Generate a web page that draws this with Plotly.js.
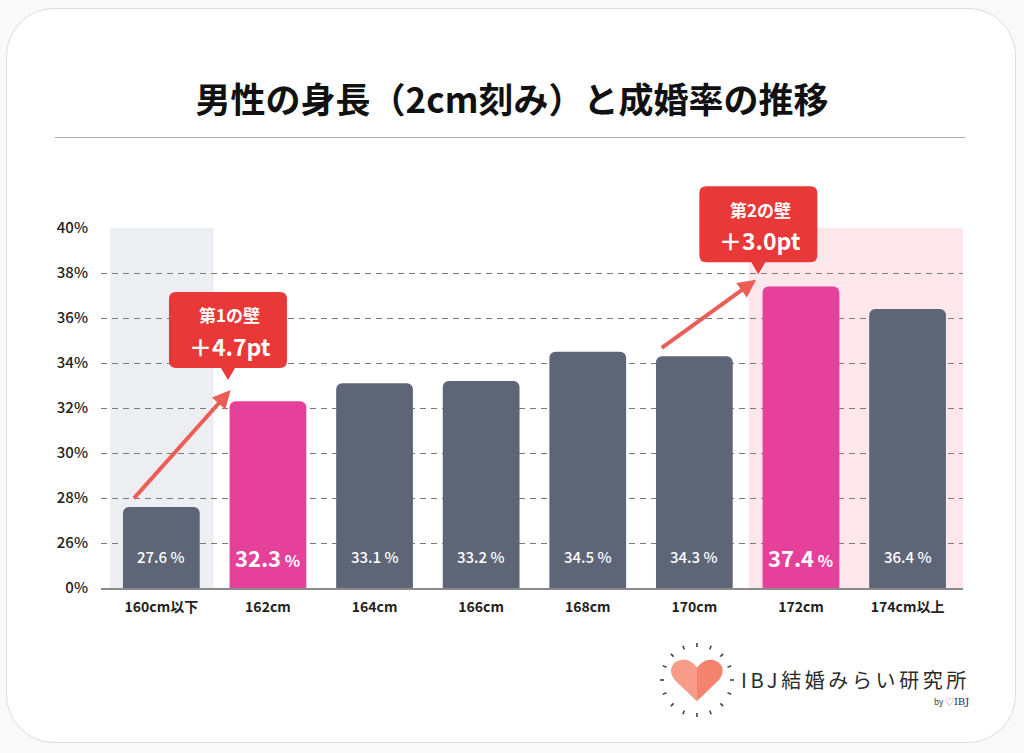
<!DOCTYPE html>
<html>
<head>
<meta charset="utf-8">
<script src="https://cdn.plot.ly/plotly-3.0.1.min.js"></script>
<style>
  body { margin: 0; background: #f9f9f9; font-family: "Noto Sans CJK JP", "Noto Sans", sans-serif; }
  #wrap { position: relative; width: 1024px; height: 753px; overflow: hidden; }
  #card { position: absolute; left: 6px; top: 8px; width: 1010px; height: 735px; background: #fff;
          border: 1px solid #dcdcdc; border-radius: 48px; box-sizing: border-box; }
  #rule { position: absolute; left: 55px; top: 137px; width: 910px; height: 0; border-top: 1.5px solid #a8a8a8; }
  #chart { position: absolute; left: 0; top: 0; width: 1024px; height: 753px; }
  #logo { position: absolute; left: 655px; top: 638px; width: 330px; height: 84px; }
  #logoText { position: absolute; left: 86px; top: 27px; font-size: 20px; letter-spacing: 3.6px; color: #2b2b2b; white-space: nowrap; }
  #logoBy { position: absolute; left: 279px; top: 57px; font-size: 8px; color: #333; white-space: nowrap; }
  #logoBy span { font-family: "DejaVu Serif", serif; font-size: 10px; color: #1d2a5a; }
  #logoBy i { font-style: normal; color: #e3566b; font-size: 9px; }
</style>
</head>
<body>
<div id="wrap">
  <div id="card"></div>
  <div id="rule"></div>
  <div id="chart"></div>
  <div id="logo">
    <svg id="logoSvg" width="84" height="84" viewBox="0 0 84 84"></svg>
    <div id="logoText">IBJ結婚みらい研究所</div>
    <div id="logoBy">by <i>♡</i><span>IBJ</span></div>
  </div>
</div>
<script>
// data
var categories = ['160cm以下', '162cm', '164cm', '166cm', '168cm', '170cm', '172cm', '174cm以上'];
var rates = [27.6, 32.3, 33.1, 33.2, 34.5, 34.3, 37.4, 36.4];
var highlighted = [false, true, false, false, false, false, true, false];
var yTickVals = [24, 26, 28, 30, 32, 34, 36, 38, 40];
var yTickText = ['0%', '26%', '28%', '30%', '32%', '34%', '36%', '38%', '40%'];
var wallNames = ['第1の壁', '第2の壁'];
var wallGains = ['＋4.7pt', '＋3.0pt'];

var grayBar = '#5e6576';
var pinkBar = '#e5409a';
var calloutRed = '#e83838';
var arrowRed = '#ec5d58';

var xRange = [-0.566, 7.52];
var yRange = [24, 40];

// arrows: [tailX, tailY, headX, headY] in axis units
var arrows = [
  [-0.27, 27.92, 0.65, 32.8],
  [4.68, 34.62, 5.58, 37.7]
];
// callout pointer tips in axis units
var tips = [[0.625, 33.25], [5.6, 37.95]];

function toPaper(x, y) {
  return [(x - xRange[0]) / (xRange[1] - xRange[0]), (y - yRange[0]) / (yRange[1] - yRange[0])];
}

function calloutPath(w, h, ph, pw, r) {
  var l = -w / 2, rt = w / 2, b = ph, t = ph + h;
  return 'M' + (l + r) + ',' + t + ' L' + (rt - r) + ',' + t + ' Q' + rt + ',' + t + ' ' + rt + ',' + (t - r) +
    ' L' + rt + ',' + (b + r) + ' Q' + rt + ',' + b + ' ' + (rt - r) + ',' + b +
    ' L' + pw + ',' + b + ' L0,0 L' + (-pw) + ',' + b +
    ' L' + (l + r) + ',' + b + ' Q' + l + ',' + b + ' ' + l + ',' + (b + r) +
    ' L' + l + ',' + (t - r) + ' Q' + l + ',' + t + ' ' + (l + r) + ',' + t + ' Z';
}

var bars = {
  type: 'bar',
  x: categories,
  y: rates,
  marker: {
    color: highlighted.map(function (h) { return h ? pinkBar : grayBar; }),
    cornerradius: 6
  },
  hoverinfo: 'skip'
};

var annotations = [];
for (var i = 0; i < rates.length; i++) {
  var txt = highlighted[i]
    ? '<b><span style="font-size:22px">' + rates[i].toFixed(1) + '</span> %</b>'
    : rates[i].toFixed(1) + ' %';
  annotations.push({
    x: i, y: 25.4, xref: 'x', yref: 'y', xanchor: 'center', yanchor: 'middle',
    text: txt, showarrow: false,
    font: { color: '#ffffff', size: highlighted[i] ? 16 : 15, weight: 500 }
  });
}
for (var a = 0; a < arrows.length; a++) {
  annotations.push({
    x: arrows[a][2], y: arrows[a][3], ax: arrows[a][0], ay: arrows[a][1],
    xref: 'x', yref: 'y', axref: 'x', ayref: 'y',
    text: '', showarrow: true, arrowhead: 2, arrowsize: 0.9, arrowwidth: 4,
    arrowcolor: arrowRed, standoff: 0
  });
}

var shapes = [
  { type: 'rect', xref: 'x', yref: 'y', x0: -0.48, x1: 0.49, y0: 24, y1: 40,
    fillcolor: '#eceef1', line: { width: 0 }, layer: 'below' },
  { type: 'rect', xref: 'x', yref: 'y', x0: 5.51, x1: 7.52, y0: 24, y1: 40,
    fillcolor: '#fde7ea', line: { width: 0 }, layer: 'below' }
];

for (var w = 0; w < tips.length; w++) {
  var p = toPaper(tips[w][0], tips[w][1]);
  shapes.push({
    type: 'path', xref: 'paper', yref: 'paper',
    xsizemode: 'pixel', ysizemode: 'pixel', xanchor: p[0], yanchor: p[1],
    path: calloutPath(118, 76, 12, 7, 7),
    fillcolor: calloutRed, line: { width: 0 }, layer: 'above'
  });
  annotations.push({
    x: p[0], y: p[1], xref: 'paper', yref: 'paper', xanchor: 'center', yanchor: 'middle',
    yshift: 65, xshift: 2,
    text: '<b>' + wallNames[w] + '</b>', showarrow: false,
    font: { color: '#ffffff', size: 17 }
  });
  annotations.push({
    x: p[0], y: p[1], xref: 'paper', yref: 'paper', xanchor: 'center', yanchor: 'middle',
    yshift: 34, xshift: 2,
    text: '<b>' + wallGains[w] + '</b>', showarrow: false,
    font: { color: '#ffffff', size: 23 }
  });
}

var layout = {
  width: 1024, height: 753,
  margin: { l: 101, r: 61, t: 228, b: 165 },
  paper_bgcolor: 'rgba(0,0,0,0)',
  plot_bgcolor: 'rgba(0,0,0,0)',
  font: { family: '"Noto Sans CJK JP", "Noto Sans", sans-serif', color: '#333' },
  title: {
    text: '男性の身長（2cm刻み）と成婚率の推移',
    x: 0.5, xref: 'container', xanchor: 'center',
    y: 1 - 101 / 753, yref: 'container', yanchor: 'middle',
    font: { size: 35, color: '#111', weight: 700 }
  },
  bargap: 0.28,
  showlegend: false,
  hovermode: false,
  xaxis: {
    type: 'category',
    range: xRange,
    showgrid: false,
    showline: true, linecolor: '#8a8a8a', linewidth: 1.5,
    ticks: '', ticklabelstandoff: 6,
    tickfont: { size: 14, color: '#222', weight: 700 },
    fixedrange: true
  },
  yaxis: {
    range: yRange,
    tickvals: yTickVals, ticktext: yTickText,
    showgrid: true, gridcolor: '#7a7a7a', gridwidth: 1, griddash: '6px,5px',
    zeroline: false, showline: false,
    ticks: '', ticklabelstandoff: 12,
    tickfont: { size: 15, color: '#222', weight: 500 },
    fixedrange: true
  },
  shapes: shapes,
  annotations: annotations
};

Plotly.newPlot('chart', [bars], layout, { displayModeBar: false, staticPlot: true });

// logo mark
(function () {
  var svg = document.getElementById('logoSvg');
  var ns = 'http://www.w3.org/2000/svg';
  var cx = 42, cy = 42;
  for (var k = 0; k < 16; k++) {
    var ang = k / 16 * Math.PI * 2;
    var ln = document.createElementNS(ns, 'line');
    ln.setAttribute('x1', cx + Math.cos(ang) * 33);
    ln.setAttribute('y1', cy + Math.sin(ang) * 33);
    ln.setAttribute('x2', cx + Math.cos(ang) * 37);
    ln.setAttribute('y2', cy + Math.sin(ang) * 37);
    ln.setAttribute('stroke', '#444');
    ln.setAttribute('stroke-width', '1.6');
    svg.appendChild(ln);
  }
  var heart = document.createElementNS(ns, 'path');
  heart.setAttribute('d', 'M42,63 L21,43 C14,36 15,26 23,23 C30,20 37,23 42,30 C47,23 54,20 61,23 C69,26 70,36 63,43 Z');
  heart.setAttribute('fill', '#f3836f');
  svg.appendChild(heart);
  var half = document.createElementNS(ns, 'path');
  half.setAttribute('d', 'M42,63 L21,43 C14,36 15,26 23,23 C30,20 37,23 42,30 Z');
  half.setAttribute('fill', '#f79c88');
  svg.appendChild(half);
})();
</script>
</body>
</html>
